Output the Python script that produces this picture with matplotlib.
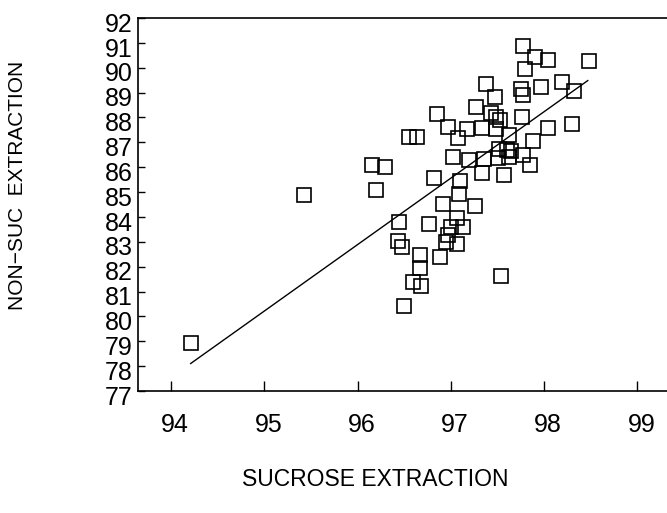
import matplotlib
matplotlib.use("Agg")
import matplotlib.pyplot as plt
import matplotlib.transforms as mtransforms
import numpy as np

plt.rcParams['font.family'] = ['Liberation Sans', 'DejaVu Sans']

# sucrose extraction (x) vs non-sucrose extraction (y)
sucrose = [94.21, 95.43, 96.16, 96.29, 96.20, 96.44, 96.43, 96.48, 96.50, 96.60,
           96.68, 96.67, 96.67, 96.77, 96.88, 96.95, 97.07, 96.97, 97.00, 97.13,
           97.07, 97.26, 96.92, 97.09, 97.10, 96.82, 97.33, 97.57, 97.85, 97.02,
           97.20, 97.36, 97.51, 97.63, 97.78, 97.52, 97.60, 97.65, 97.88, 97.08,
           96.55, 96.64, 96.97, 97.17, 97.34, 97.49, 97.63, 98.04, 98.30, 96.85,
           97.27, 97.43, 97.49, 97.53, 97.76, 97.47, 97.38, 97.75, 97.78, 97.97,
           98.19, 98.32, 97.80, 97.78, 97.90, 98.04, 98.48, 97.54]
non_suc = [78.94, 84.88, 86.08, 86.02, 85.10, 83.81, 83.02, 82.78, 80.40, 81.39,
           81.22, 81.95, 82.47, 83.71, 82.40, 83.00, 82.91, 83.27, 83.60, 83.60,
           83.97, 84.42, 84.52, 84.91, 85.44, 85.55, 85.78, 85.69, 86.10, 86.40,
           86.29, 86.32, 86.36, 86.40, 86.49, 86.72, 86.69, 86.65, 87.05, 87.16,
           87.23, 87.20, 87.62, 87.52, 87.58, 87.55, 87.29, 87.58, 87.74, 88.14,
           88.43, 88.17, 88.03, 87.90, 88.00, 88.83, 89.34, 89.14, 88.90, 89.24,
           89.41, 89.06, 89.93, 90.87, 90.44, 90.33, 90.28, 81.62]

# regression line as drawn
fit_x = [94.21, 98.47]
fit_slope = 2.671
fit_intercept = -173.53

x_ticks = [94, 95, 96, 97, 98, 99]
y_ticks = list(range(77, 93))

fig = plt.figure(figsize=(6.67, 5.13), dpi=100)
ax = fig.add_axes([138 / 667, 1 - 391 / 513, 1 - 138 / 667, (391 - 18) / 513])

ax.plot(sucrose, non_suc, linestyle='none', marker='s', markersize=10,
        markerfacecolor='none', markeredgecolor='black', markeredgewidth=1.2)
fx = np.array(fit_x)
ax.plot(fx, fit_slope * fx + fit_intercept, color='black', lw=1.0)

ax.set_xlim(93.645, 99.32)
ax.set_ylim(77, 92)
ax.set_xticks(x_ticks)
ax.set_yticks(y_ticks)
ax.spines['right'].set_visible(False)
for s in ['left', 'bottom', 'top']:
    ax.spines[s].set_linewidth(1.2)

ax.tick_params(axis='y', direction='in', length=5, width=1, labelsize=18, pad=4)
ax.tick_params(axis='x', direction='in', length=7, width=1, labelsize=18, pad=16)

# the printed labels sit a little off their ticks
shift_y = mtransforms.ScaledTranslation(0, -3 / 72, fig.dpi_scale_trans)
for lbl in ax.get_yticklabels():
    lbl.set_transform(lbl.get_transform() + shift_y)
shift_x = mtransforms.ScaledTranslation(3 / 72, 0, fig.dpi_scale_trans)
for lbl in ax.get_xticklabels():
    lbl.set_transform(lbl.get_transform() + shift_x)

fig.text(375 / 667, 1 - 479 / 513, 'SUCROSE EXTRACTION', ha='center', va='center',
         fontsize=16.5)
fig.text(18 / 667, 1 - 185 / 513, 'NON\u2212SUC  EXTRACTION', ha='center', va='center',
         rotation=90, fontsize=15)

fig.savefig('out.png', dpi=100)
